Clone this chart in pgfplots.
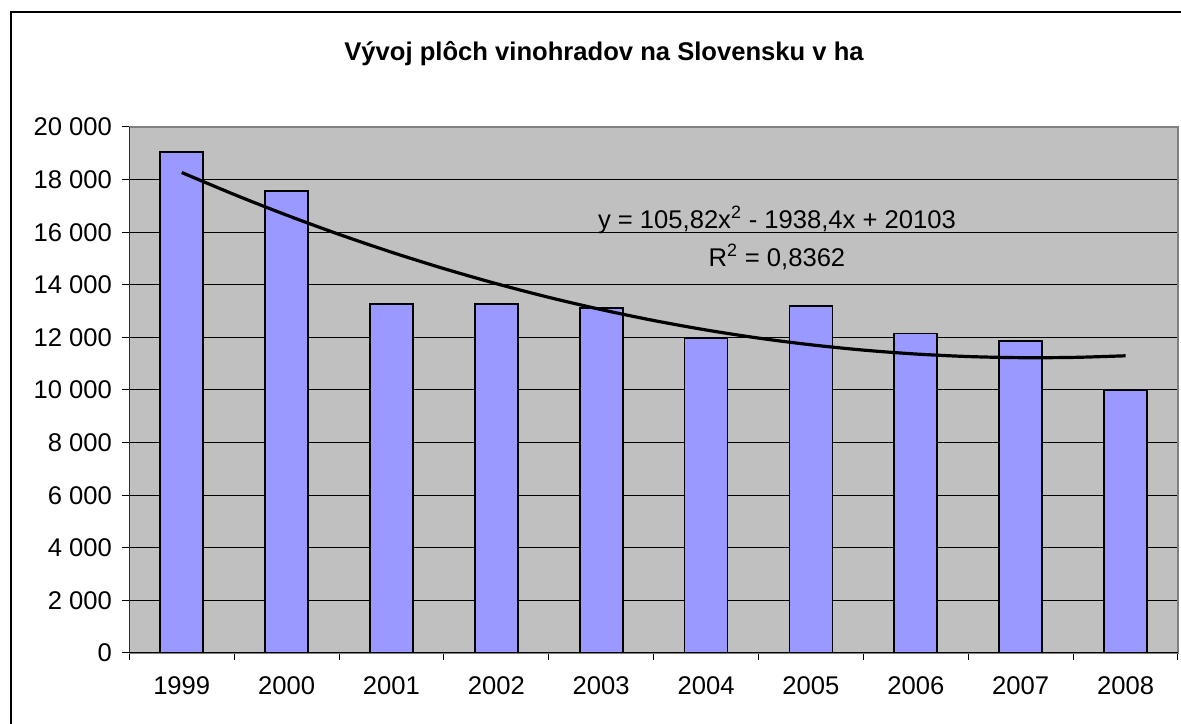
\documentclass[border=0pt]{standalone}
\usepackage{fontspec}
\setmainfont{Liberation Sans}
\usepackage{pgfplots}
\pgfplotsset{compat=1.18}
\definecolor{plotbg}{HTML}{C0C0C0}
\definecolor{barfill}{HTML}{9999FF}
\definecolor{frame}{HTML}{808080}
\newcommand{\chartfont}{\fontsize{19.2}{22}\selectfont}
\begin{document}
\begin{tikzpicture}
\useasboundingbox (0pt,0pt) rectangle (885.75pt,543pt);
\draw[line width=0.8pt] (8.25pt,-2pt) -- (8.25pt,534pt) -- (890pt,534pt);
\node[font=\chartfont\bfseries] at (453pt,503pt) {Vývoj plôch vinohradov na Slovensku v ha};
\begin{axis}[
  at={(96.975pt,53.25pt)}, anchor=south west,
  scale only axis, width=786.5pt, height=394.5pt,
  xmin=0.5, xmax=10.5, ymin=0, ymax=20000,
  axis background/.style={fill=plotbg},
  axis line style={draw=frame, line width=0.8pt},
  ytick={0,2000,...,20000},
  scaled y ticks=false,
  ymajorgrids, grid style={black, line width=0.75pt},
  xtick={1,...,10},
  xticklabels={1999,2000,2001,2002,2003,2004,2005,2006,2007,2008},
  minor xtick={0.5,1.5,...,10.5},
  xtick pos=bottom, ytick pos=left,
  tick align=outside,
  major tick length=5.5pt, minor tick length=5.5pt,
  major x tick style={draw=none},
  tick style={black, line width=0.75pt},
  ticklabel style={font=\chartfont},
  yticklabel style={xshift=-4pt},
  xticklabel style={yshift=-9pt},
  /pgf/number format/.cd, assume math mode=true, 1000 sep={\ },
]
\addplot[ybar, bar width=32.25pt, fill=barfill, draw=black, line width=1.3pt]
  coordinates {(1,19040) (2,17570) (3,13270) (4,13270) (5,13120) (6,11990) (7,13190) (8,12150) (9,11870) (10,9990)};
\addplot[black, line width=2.4pt, smooth] coordinates {
  (1,18270) (1.5,17434) (2,16649) (2.5,15918) (3,15240) (3.5,14615) (4,14043)
  (4.5,13523) (5,13057) (5.5,12643) (6,12282) (6.5,11974) (7,11719) (7.5,11517)
  (8,11368) (8.5,11272) (9,11229) (9.5,11239) (10,11301)};
\draw[black, line width=0.8pt] (rel axis cs:0,0) -- (rel axis cs:1,0);
\draw[black, line width=0.8pt] (rel axis cs:0,0) -- (rel axis cs:0,1);
\node[font=\chartfont] at (axis cs:6.676,16464) {y = 105,82x\textsuperscript{2} - 1938,4x + 20103};
\node[font=\chartfont] at (axis cs:6.676,15068) {R\textsuperscript{2} = 0,8362};
\end{axis}
\end{tikzpicture}
\end{document}
